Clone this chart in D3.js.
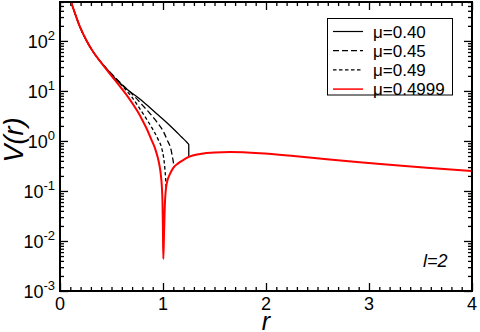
<!DOCTYPE html>
<html>
<head>
<meta charset="utf-8">
<script src="https://cdn.jsdelivr.net/npm/d3@7"></script>
<style>
  body { margin: 0; background: #fff; }
  svg text { font-family: "Liberation Sans", Arial, Helvetica, sans-serif; fill: #000; }
  .curve { fill: none; }
</style>
</head>
<body>
<div id="chart"></div>
<script>
// curves: r values and V(r) values
var r40 = [0.107,0.146,0.194,0.259,0.323,0.42,0.48,0.55,0.65,0.757,0.85,0.939,1.03,1.117,1.18,1.236,1.25,1.2505];
var v40 = [602,353,190,100,60,33,23.5,16.6,10.8,7.4,5.1,3.5,2.4,1.62,1.2,0.92,0.85,0.48];

var r45 = [0.107,0.146,0.194,0.259,0.323,0.42,0.49,0.563,0.645,0.728,0.80,0.874,0.94,1.003,1.045,1.074,1.092,1.103,1.108];
var v45 = [602,353,190,100,60,33,23.2,16.2,11.1,7.6,5.2,3.53,2.4,1.55,1.0,0.72,0.48,0.35,0.30];

var r49 = [0.107,0.146,0.194,0.259,0.323,0.42,0.49,0.56,0.63,0.696,0.75,0.803,0.855,0.906,0.95,0.987,1.005,1.017,1.026,1.031];
var v49 = [602,353,190,100,60,33,22.9,16.0,11.0,7.6,5.3,3.6,2.45,1.64,1.1,0.72,0.48,0.30,0.17,0.105];

var r4999 = [0.107,0.146,0.194,0.259,0.323,0.42,0.534,0.599,0.663,0.712,0.751,0.80,0.842,0.885,0.922,0.945,0.964,0.978,0.988,0.995,0.999,1.003,
             1.01,1.02,1.036,1.068,1.10,1.15,1.20,1.25,1.36,1.5,1.65,1.94,2.27,2.59,2.91,3.23,3.56,4.0];
var v4999 = [602,353,190,100,60,32.6,16.4,11.1,7.45,5.3,3.95,2.6,1.75,1.09,0.72,0.5,0.34,0.22,0.13,0.06,0.02,0.0044,
             0.014,0.065,0.14,0.22,0.29,0.36,0.42,0.48,0.55,0.59,0.60,0.57,0.50,0.43,0.375,0.33,0.29,0.25];

var seriesNames = ["\u03bc=0.40", "\u03bc=0.45", "\u03bc=0.49", "\u03bc=0.4999"];

var xTicks = [0, 1, 2, 3, 4];
var yTicks = [1e-3, 1e-2, 1e-1, 1, 10, 100];
var yExp = ["-3", "-2", "-1", "0", "1", "2"];

var W = 480, H = 332;
var pLeft = 60, pRight = 472, pTop = 2, pBottom = 291;

var svg = d3.select("#chart").append("svg")
  .attr("width", W).attr("height", H);

var x = d3.scaleLinear().domain([0, 4]).range([pLeft, pRight]);
var y = d3.scaleLog().domain([1e-3, 600]).range([pBottom, pTop]);

svg.append("defs").append("clipPath").attr("id", "clip")
  .append("rect").attr("x", pLeft).attr("y", pTop)
  .attr("width", pRight - pLeft).attr("height", pBottom - pTop);

// minor ticks
var xMinor = d3.range(0, 4.001, 0.1).map(function(d){ return Math.round(d*10)/10; })
  .filter(function(d){ return xTicks.indexOf(d) < 0; });
var yMinor = [];
yTicks.forEach(function(dec){
  for (var k = 2; k <= 9; k++) { if (dec*k <= 600) yMinor.push(dec*k); }
});

function axisG(axis, tr){
  var g = svg.append("g").attr("transform", tr).call(axis);
  g.select(".domain").remove();
  g.selectAll("line").attr("stroke", "#000").attr("stroke-width", 1.3);
  g.selectAll("text").remove();
  return g;
}

var tb = "translate(0," + pBottom + ")", tt = "translate(0," + pTop + ")";
var tl = "translate(" + pLeft + ",0)", tr = "translate(" + pRight + ",0)";
axisG(d3.axisBottom(x).tickValues(xTicks).tickSize(-8), tb);
axisG(d3.axisBottom(x).tickValues(xMinor).tickSize(-4), tb);
axisG(d3.axisTop(x).tickValues(xTicks).tickSize(-8), tt);
axisG(d3.axisTop(x).tickValues(xMinor).tickSize(-4), tt);
axisG(d3.axisLeft(y).tickValues(yTicks).tickSize(-8), tl);
axisG(d3.axisLeft(y).tickValues(yMinor).tickSize(-4), tl);
axisG(d3.axisRight(y).tickValues(yTicks).tickSize(-8), tr);
axisG(d3.axisRight(y).tickValues(yMinor).tickSize(-4), tr);

// tick labels
svg.append("g").selectAll("text").data(xTicks).enter().append("text")
  .attr("x", function(d){ return x(d); })
  .attr("y", 310)
  .attr("text-anchor", "middle")
  .style("font-size", "18px")
  .text(function(d){ return d; });

var yl = svg.append("g").selectAll("text").data(yTicks).enter().append("text")
  .attr("x", 55)
  .attr("y", function(d){ return y(d) + 7; })
  .attr("text-anchor", "end")
  .style("font-size", "18px");
yl.append("tspan").text("10");
yl.append("tspan").attr("dy", -8).style("font-size", "13px")
  .text(function(d, i){ return yExp[i]; });

// curves
var line = d3.line()
  .x(function(d){ return x(d[0]); })
  .y(function(d){ return y(d[1]); })
  .curve(d3.curveMonotoneX);

var series = [
  { r: r40, v: v40, color: "#000", width: 1.3, dash: null },
  { r: r45, v: v45, color: "#000", width: 1.3, dash: "6,3" },
  { r: r49, v: v49, color: "#000", width: 1.3, dash: "3.5,2.5" },
  { r: r4999, v: v4999, color: "#ff0000", width: 2, dash: null }
];

var plot = svg.append("g").attr("clip-path", "url(#clip)");
series.forEach(function(s){
  plot.append("path")
    .attr("class", "curve")
    .attr("d", line(d3.zip(s.r, s.v)))
    .attr("stroke", s.color)
    .attr("stroke-width", s.width)
    .attr("stroke-dasharray", s.dash);
});

// frame
svg.append("rect")
  .attr("x", pLeft).attr("y", pTop)
  .attr("width", pRight - pLeft).attr("height", pBottom - pTop)
  .attr("fill", "none").attr("stroke", "#000").attr("stroke-width", 2);

// legend
var lg = svg.append("g");
lg.append("rect").attr("x", 327.5).attr("y", 18.5).attr("width", 125).attr("height", 76.5)
  .attr("fill", "#fff").attr("stroke", "#000").attr("stroke-width", 1);
series.forEach(function(s, i){
  var yy = 31.5 + i * 19.2;
  lg.append("line").attr("x1", 333).attr("x2", 363).attr("y1", yy).attr("y2", yy)
    .attr("stroke", s.color).attr("stroke-width", s.width === 2 ? 1.5 : 1.2)
    .attr("stroke-dasharray", s.dash);
  lg.append("text").attr("x", 373).attr("y", yy + 6)
    .style("font-size", "17px").text(seriesNames[i]);
});

// annotations and axis titles
svg.append("text").attr("x", 423).attr("y", 267)
  .style("font-size", "18px").style("font-style", "italic").text("l=2");

svg.append("text").attr("x", x(2)).attr("y", 330)
  .attr("text-anchor", "middle")
  .style("font-size", "25px").style("font-style", "italic").text("r");

svg.append("text")
  .attr("transform", "translate(23,140) rotate(-90)")
  .attr("text-anchor", "middle")
  .style("font-size", "27px").style("font-style", "italic").text("V(r)");
</script>
</body>
</html>
